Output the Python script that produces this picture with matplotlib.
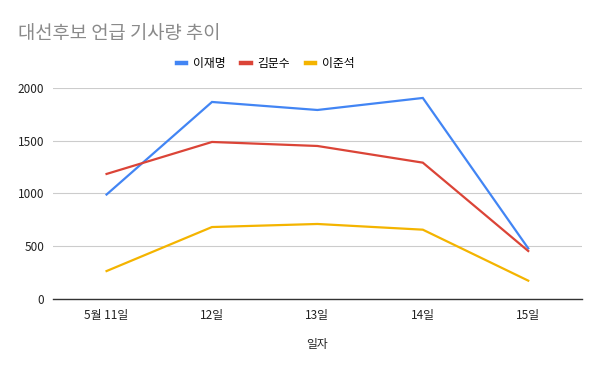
import matplotlib
matplotlib.use("Agg")
import matplotlib.pyplot as plt
from matplotlib.lines import Line2D

plt.rcParams["font.family"] = ["Noto Sans CJK KR", "DejaVu Sans"]

DATES = ["5월 11일", "12일", "13일", "14일", "15일"]
LEE_JM = [990, 1867, 1791, 1905, 480]
KIM_MS = [1185, 1488, 1450, 1292, 455]
LEE_JS = [265, 682, 711, 657, 174]

SERIES = [
    ("이재명", LEE_JM, "#4285F4"),
    ("김문수", KIM_MS, "#DB4437"),
    ("이준석", LEE_JS, "#F4B400"),
]

fig = plt.figure(figsize=(6.0, 3.71), dpi=100)
ax = fig.add_axes([0.088, 0.194, 0.882, 0.569])

x = list(range(len(DATES)))
for name, vals, col in SERIES:
    ax.plot(x, vals, color=col, lw=1.6, label=name, clip_on=False,
            solid_joinstyle="miter")

ax.set_xlim(-0.51, 4.51)
ax.set_ylim(0, 2000)
ax.set_yticks([0, 500, 1000, 1500, 2000])
ax.set_xticks(x)
ax.set_xticklabels(DATES)
ax.grid(axis="y", color="#cccccc", lw=0.8)
ax.set_axisbelow(True)
for s in ["top", "right", "left"]:
    ax.spines[s].set_visible(False)
ax.spines["bottom"].set_color("#333333")
ax.spines["bottom"].set_linewidth(1.0)
ax.tick_params(axis="both", length=0, labelsize=8.5, colors="#222222")
ax.tick_params(axis="x", pad=7)
ax.tick_params(axis="y", pad=6)
ax.set_xlabel("일자", fontsize=8.5, color="#222222", labelpad=12)

fig.text(0.03, 0.91, "대선후보 언급 기사량 추이", fontsize=13.5, color="#8a8a8a",
         ha="left", va="center")

handles = [Line2D([0], [0], color=c, lw=3.2) for _, _, c in SERIES]
fig.legend(handles, [n for n, _, _ in SERIES], loc="center",
           bbox_to_anchor=(0.443, 0.828), ncol=3, frameon=False,
           fontsize=8.5, handlelength=0.8, handletextpad=0.6, columnspacing=1.3)

fig.savefig("out.png", dpi=100)
